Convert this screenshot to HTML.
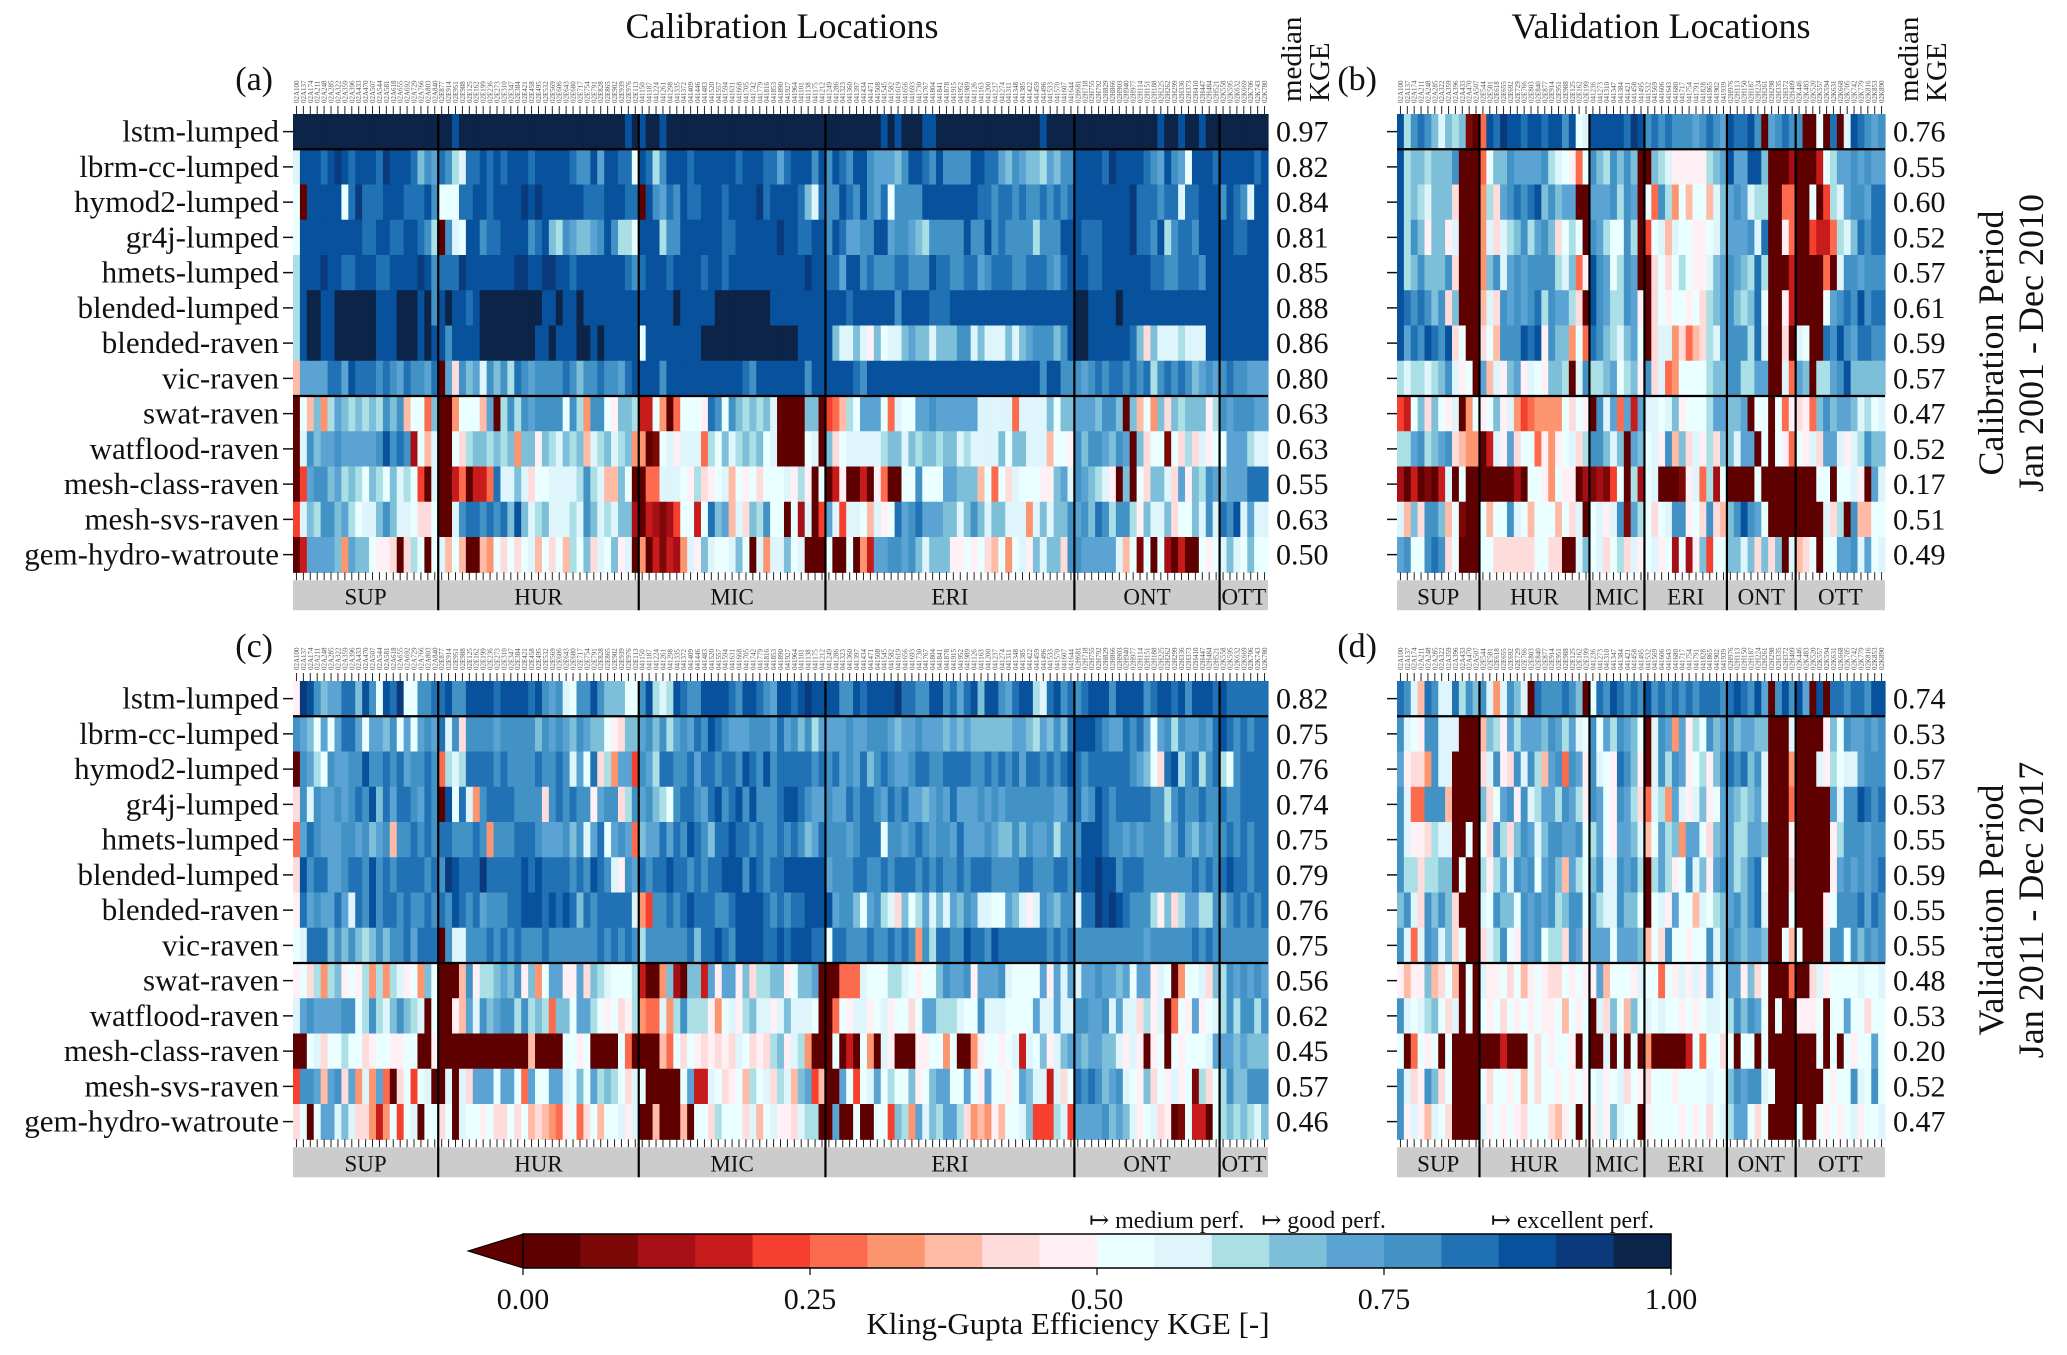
<!DOCTYPE html>
<html>
<head>
<meta charset="utf-8">
<style>
  html,body{margin:0;padding:0;background:#fff;}
  svg{display:block;}
  text{font-family:"Liberation Serif","DejaVu Serif",serif;fill:#111;}
</style>
</head>
<body>
<svg id="chart" width="2067" height="1355" viewBox="0 0 2067 1355" xmlns="http://www.w3.org/2000/svg">
  <text x="782" y="38" font-size="36" text-anchor="middle">Calibration Locations</text>
  <text x="1661" y="38" font-size="36" text-anchor="middle">Validation Locations</text>
  <g transform="translate(2003,343) rotate(-90)">
    <text x="0" y="0" font-size="36" text-anchor="middle">Calibration Period</text>
    <text x="0" y="40" font-size="36" text-anchor="middle">Jan 2001 - Dec 2010</text>
  </g>
  <g transform="translate(2003,910) rotate(-90)">
    <text x="0" y="0" font-size="36" text-anchor="middle">Validation Period</text>
    <text x="0" y="40" font-size="36" text-anchor="middle">Jan 2011 - Dec 2017</text>
  </g>
  <g id="panels"></g>
  <g id="colorbar"></g>
</svg>
<script>
// ---------------- data ----------------
const models = ["lstm-lumped","lbrm-cc-lumped","hymod2-lumped","gr4j-lumped","hmets-lumped","blended-lumped","blended-raven","vic-raven","swat-raven","watflood-raven","mesh-class-raven","mesh-svs-raven","gem-hydro-watroute"];
const regions = ["SUP","HUR","MIC","ERI","ONT","OTT"];
const calCounts = [21,29,27,36,21,7];
const valCounts = [12,16,8,12,10,13];
// KGE bins: char index k in "0123456789abcdefghij" -> KGE in [k*0.05,(k+1)*0.05)
const binChars = "0123456789abcdefghij";
const kgeA = [
"jjjjjjjjjjjjjjjjjjjjj jjhjjjjjjjjjjjjjjjjjjjjjjjjhj hjjhjjjjjjjjjjjjjjjjjjjjjjj jjjjjjjjhjhjjjhhjjjjjjjjjjjjjjjhjjjj jjjjjjjjjjjjhjjhjjhjj jjjjjjj",
"bhhhghihghhhgihhhgdfe gfcbgghghghhhghhhhhgffhehhgg ahgcfhhhghhhhhhghhhggeghhhf hfhgfhhfeeedfhhgfhffffhhggedfeddcedff hhhhgihhhhgfehfeahhhg hhhhhgh",
"a0hhhhhagiggghhhggghf aaagghhghhhhihihhhhhhggghhhgg 0hfegfhgghhhghhhhighhhhgdb gffhgfhfegaffffhhhhhhhhggfggfgffgfgf ghhhhhhhhigggfggbgghh hfhgfbh",
"ahhhhhhhhhgghhgghhgfc 0fbahhfgghhhhfghdcfeddefhfcc ahhhcffhhhhhhgghhhhhhihhgg hhfhgeeffhheffedcfffffhffhfgffffcfff hhhggghhhhiggfhcfggfh hhhhggh",
"chhhihhgghhhgghhhhihf gggihhhhhhhiihhiihhghhhhhhhg fghhhghhhhghhghhhhhhhhhhhi hhggehhfgfffggfffhggffggefgggffgggfe ghhhgghhhhhhhggffgggf hhhhhhh",
"chjjhhjjjjjjhhhjjjhjf hjhhghjjjjjjjjjhhjhhjhhhhhhhh hhhhhjhhhhhjjjjjjjjhhhhhhh hhhhghhhhhhfhhhhggghhhhhhhhhhhhhhhhh hjjhhhhjhhhhhhhhhhhhh hhhhhhh",
"chjjhhjjjjjjhhhjjjhjh hfhhhhjjjjjjjjhhjhhhjjhjhhhhh ahhhhhhhhjjjjjjjjjjjjjjhhh hhdbbdb9dabbdeddbdddffbdbbbdbdefffdf hjjhhhhhhgd8dbbbcbbbh hhhhhhh",
"7eeeeggehgggfgfegffeg 0e8fdebfdfcgfeffffgfdffgffeg hhhhfhhhhhhhhhhhgfhhhhhhhf hhhhhhgfhhhhhhhhhhhhhhhhhhhhhhhhhfhh fffefgfggfgfgcfgfgfde fefgffe",
"0a7d6cedcdcdcfdf7aa5d 006aaa7e0cfcfeffffafc6ffa9ddc 33a605aaa9gfafdcdcdb0000dd 0457caeeea5baaeefeeeeeebbbbb5bbbbdad deeedffd0d7a6d8dcddd9 cfefffe",
"0bfdeefeeeeefhfgf2a7b 00a8cddcdcd6dd9dcbdcd7bcdbcd 6601ab9bbb5cadbcdcdab0000ab 0d8abbbbbcddbdcddcddbcbbbbdaddbbb7aa 9fdffedfe0d8aa1a8c8b9 aaeeecb",
"04effdecdcadcadbca40b 00350335gbbdb8aabbbbcfcb77da 0055bbba9c89ab7a9a8aaab9c9 0a03900309500aafaaaeeddd7a5a8baaa99d ebfedcb90d0a8ddb8e9dc fedeeeg",
"4bdcffdecabbdfdbba88a 00bfggfgfgdhdbcdbbbcbfdbcbdd 2032124aa3agde7b8dcfaa0a2b 04eb4bba7b9agefgeeeddbdfdbddbbb6bdbdd fefdgfcffc9dbbd8aadbf bgfhbeb",
"03eeeed6edda99808ca0ab 7a70076a8a8ab7a8a7cad8bad9b 06031326b9dbaabda0b6bbdab0 00a00a063eeffefdbddd99a9a87a6ab9dbdd8 ffeeeeeb7a1a0a20300a9 abdbada"
];
const kgeB = [
"hcfgfdbdcd10 5hgihhghhghhfhab hhhhhgih fgfgfffefgfe hgghf0efgf f00a0g0bhgfef",
"hcddcdddf000 5addfeeeefcba95a fdcfdfd0 0dcb99999cde heehhd0002 0003aceefefe",
"hcdcbddd8000 6c8efgfghdfdee00 eeefcfe0 a5fc6a7aa7bd efebcc0055 00a04cbeffeg",
"hcfd9dd9b000 6b8bcdfcefd8aca0 fecaafc0 4ab7baa99abd eeefbg0095 004335cbdgfg",
"hcdfdddf8000 6dfbefeffffcbd59 hfeacfe0 08a8aca99bde fedcgc0003 000050bffeff",
"hgfgfdf8d000 7b8fefefgcfeec80 hfeccfe9 08a9aa9a8cde fdcdga0093 0000aefgfhfg",
"hegfhgfh8a00 8a7fffhgh9fdd6a5 gfdcbdea 08bb68578cbe fffcgb0080 ba00gfhfeggf",
"cbccbcdfb9a0 e7b9de9ba9ddc0bf ccdeacd9 f8b56aaaacdd ffccee00b5 ed0ccefhdddd",
"43ad8da9b06a 9ad9b6456666a8a9 0fbe5e3e bbabd9aaacee dde0aa0a59 895dfdeedbcab",
"ccefcdef8766 03b9e8aa5969ab8c ffdbd0ed ab9f7d8b9c8d dbee0a0a95 a9b8eeb9bcfdd",
"2030103b0a00 0000020aa96a9902 1214a0c2 ab00019b5c2a 0000a00000 000aa0aab90eb",
"b7d8ffd7a100 a7aafba7aaa7a8b0 ab9bf1ec a8abff9a8f87 dfhfea0000 0000b8c0f77aa",
"efaafgf8a000 aa888888aa8800bd ab8ac8b9 ab9a2a29d4aa ddbd8d8d0b 78a0aaeefbeab"
];
const kgeC = [
"9ihfdeeggdhfahgiaaffg ghffhhhhghhhhghfefbaffhfdddaa fhcbchgffhhhhgfhhgfehhghihhh hffhghhhhiggffhhfgeghdhhfeghhcbghfgf ghhhfhhhhfghhghfhhhgh gggggggg",
"fedaeaeggeaeedfaeaefe gbf8ffffefffffdfefedfedda98dd efdfcefegfhgfeeefffegefdfc eeeefeefffedeefeeedededdddddeedcedfd ghhhgfeegfgeaefcfeefe ghgfgfg",
"0fecafeeffhffgfgeffgf 5cbcggggfgffffgffgfbeag8c6ee 4fecggffgeggfggfhgfhfggggg fgfgefegdfgfeefggffggggffgfgfgeggfgf ghgfggggggfeda8ghcfgc fgcafgg",
"8fbfeefefgfhdgeggfegf 0hagb6fggggffff8fgfgff9eff8c fefdcafggfeghfghfhfffghhgfe efeegfggfegfgeedefegeeefefefffffffee ggefhgfgggggffcfgffgf fgffggg",
"5egfeeeffefdef7ffgfgf ggfffgf6fffgggfeeefdfbegaefe5d eegegfhgfdgghggfgffgfgfdeg fffefgggaffefgfeffegeeefeddfdfeefcff fhhhgffefefffdegedfef fgfgfgg",
"8hfggeefggfhfgfggggfg fihgggiggggghghggggfgfhgfb9fe gfgghggfgfgghhhfhgfgghhhhhh efffggffgfgggfgfgffgfgggffffggfffggf ghhihhfgggfffffffgfgf ghggfgg",
"9gefeegebgfhfggfgffgf gfhgfgefffgghhhghghgdgfgggggb6 4ffgfghgggffghhhhgfgfgghhhh effdaefcb8dacebdbedfebbaaedb9bfedffb ggihihgfffc9d8ceeccfd fgfgfgg",
"abgggdfdfdcdfdffgeggg 0fbbfffgfgfgfffgfffffffgfgfgfc ffffffgdgghgfhhhhgghghhhgg aggfffgffgfgf6fcggffhggfhgggggggfgfg ffffffffffeffffffgfgf ffffffff",
"9a8c6cd9a9c6c6cb9a6da 0007f9ccdedf9d6aee99e8dcbaaac 3006d20dd3e9ee9d8ccdd9adde00 0555baaaccba9aadfeef9eeefbaaaae9ebeb eefeedeaee9ba06aab8dc fefefef",
"befeeeeffacfcbdfdcb0a 0097ebfdeffcfcdc5ddaeeca9a89c 655b6cfccc96ab9cdbb9bdbbba0 05a9bb9ab9aa8aeecccbaafbbbaaaaebbebb ffeefbebb8c9b05a9e9ab cfcffcf",
"00ab8aacaa89aa99aa009 000000000000070000aa9a0000a50 00075a8a989898ba898cd9bc60 00a030a60b900099aa6a0069aa9ab3bad9bd eedeeddb9b909a0a9aaab eeededd",
"4ffe7ef8e6b6e508a4ab0 0b0b8eeeaeea5eaaeebadaecdca8ba 00000ae33ba89a7cab8cb7de47 00ea4abeacaad9adeeaaea9eaa9aedbb3b8a gfgfdefba9d8a9b9a1c8a cfddfff",
"8a0aeebdb88636a4ab0a a8a0baa9a88a8a787659a58a7aab9b 00700070aa8caaa8b7ab998bcc0 0e00a00aa4dc6ebdceec867697aabd444cb4 eeeefdedb9ab8901a330a cdcdcbd"
];
const kgeD = [
"gfb7gfbbgcfd fb6bfdb0gfffgfd0a gfhgfgfh fgfgfgfgggfg hgfhe0fhfh e0h0ggfggfhhf",
"fba9ffbbb000 7dc9eceeedfeceba faecfeda 0bfe6e9cafde fdeedd000b 00009dafeefef",
"e9886fbb0000 8bf98fbfc7ef5fe9 fba9gfd9 0bfcfe9ac9df gfgdfb0006 000b9cabbefff",
"fb55fff70000 d8aef9fbceecfec9 fea9fec8 5bc6eb9bd9ae edcdeb0005 00000ebffhgfg",
"fb998cbb00a0 a8fc8dfebdffeefa cea9eedb 7aecd6eea8de ecceed0009 000009cfffeff",
"fcc8ccdd0a00 c9cebfefaefd7eca dfbbfefc 0cec9afbd9ef ecdfga0008 000009efefefg",
"dfb8fdfd8000 bafddafefefcdffa ecbbfdda 0ab9eaa7bacd efdfgb000a 00009afffgegf",
"fb5bfebd8a00 8bcfa9fefacc8fe9 eeeaeeed 7a8faa9aafbd fedeed00a7 a000bffafdfef",
"9799d78a70a0 b99a8a79a988a9a9 9e7aaa9b aa5a9b9b9eba ee9d8a0005 008b9aaaabaab",
"fbabcda8b0a0 a9a8a9a9a99a7a9a 0b8da7da babaa9a9abba cfdfea0a00 999a0aaeaa8aa",
"a05a9a0a0000 0003000a8a9aa90a 00b0a0a0 6000003a5aa8 a0aa0a0000 000a0a0a9aaea",
"fb89fd8a0000 a8aa9a7a8aa9a9a9 ab9ab8a9 8aaa9aaaabaa dfeffba000 0000a9aafbafa",
"f9b97ba80000 b9a9a98aaa879a0a 9b9dbaa0 9aaaa9a9a8ab ceea8a0000 a00a9a9ab9aab"
];
const medianA = ["0.97","0.82","0.84","0.81","0.85","0.88","0.86","0.80","0.63","0.63","0.55","0.63","0.50"];
const medianB = ["0.76","0.55","0.60","0.52","0.57","0.61","0.59","0.57","0.47","0.52","0.17","0.51","0.49"];
const medianC = ["0.82","0.75","0.76","0.74","0.75","0.79","0.76","0.75","0.56","0.62","0.45","0.57","0.46"];
const medianD = ["0.74","0.53","0.57","0.53","0.55","0.59","0.55","0.55","0.48","0.53","0.20","0.52","0.47"];
const cbTicks = [0, 0.25, 0.5, 0.75, 1.0];
const cbTickLabels = ["0.00","0.25","0.50","0.75","1.00"];
const regionPrefix = ["02A","02E","041","041","02H","02K"];

// ---------------- styling ----------------
const palette = ["#5f0000","#7d0808","#a50f15","#c81b1b","#f5402f","#fd6b4e","#fe9571","#ffbba6","#ffdcdc","#fff0f5",
                 "#eaffff","#ddf5fb","#aadfe6","#7dbfd8","#5ba3d3","#4292c6","#2171b5","#08519c","#0a3a7c","#0b2447"];
function colorFor(v){ let k=Math.floor(v/0.05); if(k<0)k=0; if(k>19)k=19; return palette[k]; }

const NS="http://www.w3.org/2000/svg";
function mk(tag, attrs, parent){ const e=document.createElementNS(NS,tag); for(const k in attrs) e.setAttribute(k,attrs[k]); parent.appendChild(e); return e; }

function decodeRow(str, total){
  const s=str.replace(/\s+/g,"");
  const vals=[];
  for(let i=0;i<total;i++){
    const ch = s[Math.min(i, s.length-1)];
    let k = binChars.indexOf(ch); if(k<0) k=10;
    vals.push((k+0.5)*0.05);
  }
  return vals;
}

const root=document.getElementById("panels");
const ROWH=35.25;

function drawPanel(cfg){
  const {name,x0,x1,y0,counts,rows,medians,label,showNames,medX,showHeader} = cfg;
  const total = counts.reduce((a,b)=>a+b,0);
  const cw=(x1-x0)/total;
  const g=mk("g",{},root);
  
  
  const xOf = i => x0 + i*cw;
  const yOf = r => y0 + r*ROWH;
  const y1 = yOf(13);
  rows.forEach((rowStr,r)=>{
    const vals=decodeRow(rowStr,total);
    vals.forEach((v,i)=>{
      const c=mk("rect",{x:xOf(i).toFixed(2),y:yOf(r).toFixed(2),width:(cw+0.6).toFixed(2),height:(ROWH+0.6).toFixed(2),fill:colorFor(v)},g);
      
      
    });
  });
  models.forEach((m,r)=>{
    const yc=yOf(r)+ROWH/2;
    mk("line",{x1:x0-10,x2:x0,y1:yc,y2:yc,stroke:"#111","stroke-width":1.5},g);
    if(showNames){
      const t=mk("text",{x:x0-14,y:yc+10,"font-size":31,"text-anchor":"end"},g);
      t.textContent=m;
      
      
    }
    const mt=mk("text",{x:medX,y:yc+10,"font-size":30},g);
    mt.textContent=medians[r];
    
    
  });
  if(showHeader){
    const mh=mk("g",{transform:`translate(${medX+25},${y0-12}) rotate(-90)`},g);
    
    
    mk("text",{x:0,y:0,"font-size":29},mh).textContent="median";
    mk("text",{x:0,y:28,"font-size":29},mh).textContent="KGE";
  }
  const pl=mk("text",{x:x0-20,y:y0-24,"font-size":34,"text-anchor":"end"},g);
  pl.textContent=label;
  
  
  let idx=0;
  counts.forEach((n,ri)=>{
    for(let j=0;j<n;j++){
      const xc=xOf(idx)+cw/2;
      mk("line",{x1:xc,x2:xc,y1:y0-8,y2:y0,stroke:"#222","stroke-width":1},g);
      mk("line",{x1:xc,x2:xc,y1:y1,y2:y1+8,stroke:"#222","stroke-width":1},g);
      const st=mk("text",{transform:`translate(${xc+2.5},${y0-11}) rotate(-90)`,"font-size":7,style:"fill:#555"},g);
      st.textContent=regionPrefix[ri]+String(100+((idx*37)%900)).padStart(3,"0");
      idx++;
    }
  });
  const bar=mk("rect",{x:x0,y:y1+8,width:x1-x0,height:30,fill:"#cccccc"},g);
  
  
  let acc=0;
  counts.forEach((n,ri)=>{
    const xa=xOf(acc), xb=xOf(acc+n);
    const rt=mk("text",{x:(xa+xb)/2,y:y1+32,"font-size":23,"text-anchor":"middle"},g);
    rt.textContent=regions[ri];
    
    
    acc+=n;
    if(ri<counts.length-1){
      mk("line",{x1:xOf(acc),x2:xOf(acc),y1:y0,y2:y1+38,stroke:"#000","stroke-width":2.2},g);
    }
  });
  [1,8].forEach(r=>mk("line",{x1:x0,x2:x1,y1:yOf(r),y2:yOf(r),stroke:"#000","stroke-width":2.2},g));
}

drawPanel({name:"panel-a-calibration-locations-calibration-period",x0:293,x1:1268,y0:114,counts:calCounts,rows:kgeA,medians:medianA,label:"(a)",showNames:true,medX:1276,showHeader:true});
drawPanel({name:"panel-b-validation-locations-calibration-period",x0:1397,x1:1885,y0:114,counts:valCounts,rows:kgeB,medians:medianB,label:"(b)",showNames:false,medX:1893,showHeader:true});
drawPanel({name:"panel-c-calibration-locations-validation-period",x0:293,x1:1268,y0:681,counts:calCounts,rows:kgeC,medians:medianC,label:"(c)",showNames:true,medX:1276,showHeader:false});
drawPanel({name:"panel-d-validation-locations-validation-period",x0:1397,x1:1885,y0:681,counts:valCounts,rows:kgeD,medians:medianD,label:"(d)",showNames:false,medX:1893,showHeader:false});

// ---------------- colorbar ----------------
const cb=document.getElementById("colorbar");
const cbX0=523, cbX1=1671, cbY0=1234, cbY1=1268;
const cbx = v => cbX0 + v*(cbX1-cbX0);
const tri=mk("polygon",{points:`468,${(cbY0+cbY1)/2} ${cbX0},${cbY0} ${cbX0},${cbY1}`,fill:palette[0],stroke:"#000","stroke-width":1},cb);


palette.forEach((c,k)=>{
  const r=mk("rect",{x:cbx(k*0.05),y:cbY0,width:(cbx(0.05)-cbx(0)+0.5),height:cbY1-cbY0,fill:c},cb);
  
  
});
mk("rect",{x:cbX0,y:cbY0,width:cbX1-cbX0,height:cbY1-cbY0,fill:"none",stroke:"#000","stroke-width":1.5},cb);
cbTicks.forEach((v,i)=>{
  mk("line",{x1:cbx(v),x2:cbx(v),y1:cbY1,y2:cbY1+7,stroke:"#000","stroke-width":1.2},cb);
  const t=mk("text",{x:cbx(v),y:cbY1+41,"font-size":30,"text-anchor":"middle"},cb);
  t.textContent=cbTickLabels[i];
  
  
});
const cl=mk("text",{x:1068,y:1334,"font-size":31,"text-anchor":"middle"},cb);
cl.textContent="Kling-Gupta Efficiency KGE [-]";


[["↦ medium perf.",0.5],["↦ good perf.",0.65],["↦ excellent perf.",0.85]].forEach(([s,v])=>{
  const t=mk("text",{x:cbx(v)-8,y:1228,"font-size":24},cb);
  t.textContent=s;
  
  
});
</script>
</body>
</html>
